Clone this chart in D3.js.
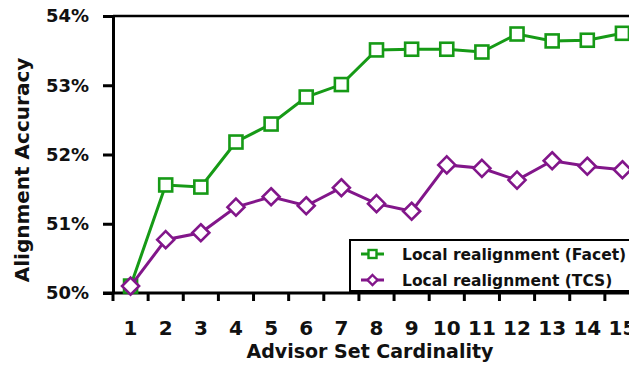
<!DOCTYPE html>
<html>
<head>
<meta charset="utf-8">
<script src="https://cdn.jsdelivr.net/npm/d3@7"></script>
<style>
  html, body { margin: 0; padding: 0; background: #fff; }
  svg { display: block; }
  text { font-family: "DejaVu Sans", sans-serif; font-weight: bold; fill: #111; }
</style>
</head>
<body>
<svg id="chart" width="629" height="366"></svg>
<script>
const categories = ["1","2","3","4","5","6","7","8","9","10","11","12","13","14","15"];
const facetValues = [50.10, 51.56, 51.53, 52.18, 52.44, 52.83, 53.01, 53.51, 53.52, 53.52, 53.48, 53.74, 53.64, 53.65, 53.75];
const tcsValues   = [50.10, 50.77, 50.87, 51.24, 51.39, 51.26, 51.52, 51.29, 51.18, 51.85, 51.80, 51.63, 51.91, 51.83, 51.78];
const yTicks = [50, 51, 52, 53, 54];
const seriesNames = ["Local realignment (Facet)", "Local realignment (TCS)"];
const xTitle = "Advisor Set Cardinality";
const yTitle = "Alignment Accuracy";

(function () {
const colors = { facet: "#169a16", tcs: "#82168a" };

const svg = d3.select("#chart");
const mLeft = 113, mRight = 640, mTop = 16, mBottom = 293;

const x = d3.scaleBand().domain(categories).range([mLeft, mRight]);
const y = d3.scaleLinear().domain([50, 54]).range([mBottom, mTop]);
const cx = c => x(c) + x.bandwidth() / 2;

// top frame line
svg.append("line")
  .attr("x1", mLeft).attr("x2", mRight)
  .attr("y1", y(54)).attr("y2", y(54))
  .attr("stroke", "#000").attr("stroke-width", 2.5);

// y axis
const yAxis = svg.append("g").attr("transform", `translate(${mLeft},0)`)
  .call(d3.axisLeft(y).tickValues(yTicks).tickFormat(d => d + "%").tickSize(10).tickSizeOuter(0));
yAxis.select(".domain").attr("stroke", "#000").attr("stroke-width", 3);
yAxis.selectAll(".tick line").attr("stroke", "#000").attr("stroke-width", 3);
yAxis.selectAll(".tick text").attr("x", -24).attr("font-size", 18).attr("font-family", "DejaVu Sans").attr("font-weight", "bold").attr("fill", "#111");

// x axis labels
const xAxis = svg.append("g").attr("transform", `translate(0,${mBottom})`)
  .call(d3.axisBottom(x).tickSize(0).tickSizeOuter(0));
xAxis.select(".domain").remove();
xAxis.selectAll(".tick text").attr("y", 0).attr("dy", "42").attr("font-size", 20)
  .attr("font-family", "DejaVu Sans").attr("font-weight", "bold").attr("fill", "#111");
// x axis line and boundary ticks
svg.append("line")
  .attr("x1", mLeft - 10).attr("x2", mRight)
  .attr("y1", mBottom).attr("y2", mBottom)
  .attr("stroke", "#000").attr("stroke-width", 3);
svg.append("g").selectAll("line").data(categories).join("line")
  .attr("x1", d => x(d)).attr("x2", d => x(d))
  .attr("y1", mBottom).attr("y2", mBottom + 8)
  .attr("stroke", "#000").attr("stroke-width", 3);

// titles
svg.append("text")
  .attr("x", 370).attr("y", 358)
  .attr("text-anchor", "middle").attr("font-size", 19)
  .text(xTitle);
svg.append("text")
  .attr("transform", `translate(29,170) rotate(-90)`)
  .attr("text-anchor", "middle").attr("font-size", 20)
  .text(yTitle);

const line = d3.line().x((d, i) => cx(categories[i])).y(d => y(d));

// Facet series (squares)
svg.append("path").datum(facetValues)
  .attr("d", line).attr("fill", "none")
  .attr("stroke", colors.facet).attr("stroke-width", 3);
const sq = 13;
svg.append("g").selectAll("rect").data(facetValues).join("rect")
  .attr("x", (d, i) => cx(categories[i]) - sq / 2)
  .attr("y", d => y(d) - sq / 2)
  .attr("width", sq).attr("height", sq)
  .attr("fill", "#fff").attr("stroke", colors.facet).attr("stroke-width", 2.6);

// TCS series (diamonds)
svg.append("path").datum(tcsValues)
  .attr("d", line).attr("fill", "none")
  .attr("stroke", colors.tcs).attr("stroke-width", 3);
const dm = 8.5;
svg.append("g").selectAll("path.dm").data(tcsValues).join("path")
  .attr("class", "dm")
  .attr("d", (d, i) => {
    const px = cx(categories[i]), py = y(d);
    return `M${px},${py - dm}L${px + dm},${py}L${px},${py + dm}L${px - dm},${py}Z`;
  })
  .attr("fill", "#fff").attr("stroke", colors.tcs).attr("stroke-width", 2.6);

// legend
const lg = svg.append("g");
lg.append("rect")
  .attr("x", 350).attr("y", 240).attr("width", 300).attr("height", 51)
  .attr("fill", "#fff").attr("stroke", "#000").attr("stroke-width", 2);
const legendItems = [
  { name: seriesNames[0], color: colors.facet, shape: "square" },
  { name: seriesNames[1], color: colors.tcs, shape: "diamond" }
];
legendItems.forEach((it, i) => {
  const ly = 254 + i * 26;
  lg.append("line").attr("x1", 361).attr("x2", 384).attr("y1", ly).attr("y2", ly)
    .attr("stroke", it.color).attr("stroke-width", 3);
  if (it.shape === "square") {
    lg.append("rect").attr("x", 368.5).attr("y", ly - 4).attr("width", 8).attr("height", 8)
      .attr("fill", "#fff").attr("stroke", it.color).attr("stroke-width", 2.4);
  } else {
    lg.append("path").attr("d", `M372.5,${ly - 5}L377.5,${ly}L372.5,${ly + 5}L367.5,${ly}Z`)
      .attr("fill", "#fff").attr("stroke", it.color).attr("stroke-width", 2.4);
  }
  lg.append("text").attr("x", 402).attr("y", ly + 6).attr("font-size", 15.5).text(it.name);
});
})();
</script>
</body>
</html>
